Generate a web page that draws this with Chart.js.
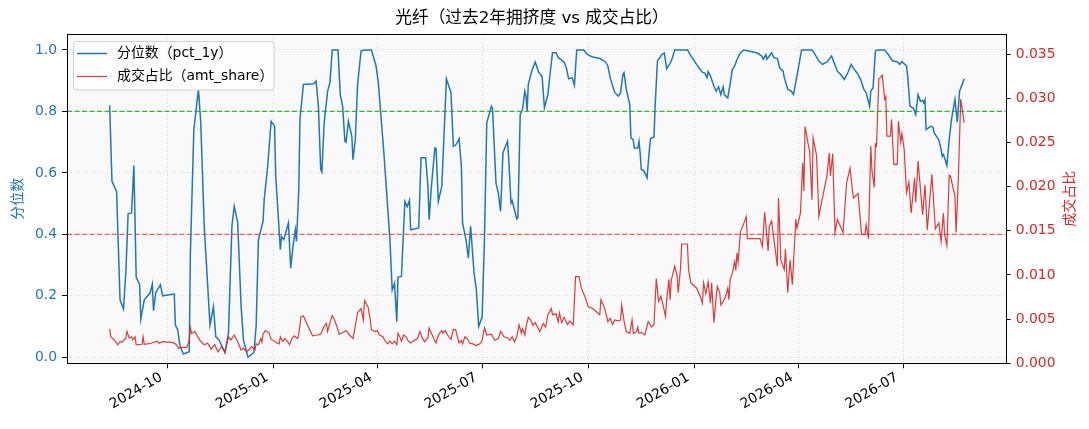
<!DOCTYPE html>
<html>
<head>
<meta charset="utf-8">
<script src="https://cdn.jsdelivr.net/npm/chart.js@4.4.1/dist/chart.umd.min.js"></script>
<style>
  html, body { margin: 0; padding: 0; background: #fff; }
</style>
</head>
<body>
<canvas id="chart" width="1089" height="429"></canvas>
<script>
// 分位数 (pct_1y), one line per month
const pctDates = [
  '2024-08-12','2024-08-14','2024-08-18','2024-08-21','2024-08-24','2024-08-26','2024-08-28','2024-08-31',
  '2024-09-02','2024-09-04','2024-09-07','2024-09-08','2024-09-11','2024-09-16','2024-09-18','2024-09-19','2024-09-21','2024-09-25','2024-09-27',
  '2024-10-01','2024-10-07','2024-10-08','2024-10-10','2024-10-12','2024-10-15','2024-10-20','2024-10-21','2024-10-24','2024-10-28','2024-10-30',
  '2024-11-02','2024-11-07','2024-11-10','2024-11-12','2024-11-15','2024-11-20','2024-11-23','2024-11-26','2024-11-28',
  '2024-12-01','2024-12-04','2024-12-06','2024-12-10','2024-12-15','2024-12-17','2024-12-19','2024-12-23','2024-12-24','2024-12-27','2024-12-30',
  '2025-01-02','2025-01-03','2025-01-05','2025-01-07','2025-01-08','2025-01-10','2025-01-14','2025-01-16','2025-01-18','2025-01-20','2025-01-21','2025-01-23','2025-01-24','2025-01-27',
  '2025-02-05','2025-02-07','2025-02-09','2025-02-11','2025-02-12','2025-02-14','2025-02-17','2025-02-19','2025-02-21','2025-02-26','2025-02-28',
  '2025-03-02','2025-03-04','2025-03-05','2025-03-07','2025-03-10','2025-03-11','2025-03-13','2025-03-15','2025-03-18','2025-03-21','2025-03-27','2025-03-31',
  '2025-04-02','2025-04-07','2025-04-12','2025-04-14','2025-04-16','2025-04-18','2025-04-19','2025-04-22','2025-04-25','2025-04-27','2025-04-29','2025-04-30',
  '2025-05-07','2025-05-09','2025-05-13','2025-05-15','2025-05-16','2025-05-18','2025-05-21','2025-05-22','2025-05-24','2025-05-27','2025-05-29','2025-05-31',
  '2025-06-04','2025-06-06','2025-06-08','2025-06-10','2025-06-11','2025-06-13','2025-06-14','2025-06-17','2025-06-19','2025-06-21','2025-06-24','2025-06-26','2025-06-28',
  '2025-07-01','2025-07-03','2025-07-05','2025-07-09','2025-07-10','2025-07-13','2025-07-15','2025-07-17','2025-07-19','2025-07-23','2025-07-24','2025-07-26','2025-07-27','2025-07-29','2025-07-31',
  '2025-08-01','2025-08-03','2025-08-05','2025-08-07','2025-08-08','2025-08-09','2025-08-10','2025-08-13','2025-08-16','2025-08-19','2025-08-22','2025-08-24','2025-08-27','2025-08-29','2025-08-31',
  '2025-09-03','2025-09-05','2025-09-10','2025-09-12','2025-09-14','2025-09-17','2025-09-19','2025-09-21','2025-09-27','2025-09-30',
  '2025-10-04','2025-10-11','2025-10-16','2025-10-18','2025-10-20','2025-10-24','2025-10-27','2025-10-29','2025-10-31',
  '2025-11-01','2025-11-03','2025-11-06','2025-11-07','2025-11-09','2025-11-10','2025-11-13','2025-11-14','2025-11-15','2025-11-16','2025-11-18','2025-11-19','2025-11-21','2025-11-23','2025-11-24','2025-11-27','2025-11-28','2025-11-30',
  '2025-12-04','2025-12-06','2025-12-08','2025-12-11','2025-12-13','2025-12-15','2025-12-26','2025-12-30',
  '2026-01-05','2026-01-08','2026-01-10','2026-01-12','2026-01-13','2026-01-15','2026-01-18','2026-01-20','2026-01-22','2026-01-24','2026-01-26','2026-01-27','2026-01-30',
  '2026-02-01','2026-02-03','2026-02-05','2026-02-07','2026-02-10','2026-02-13','2026-02-17','2026-02-24','2026-02-28',
  '2026-03-02','2026-03-04','2026-03-05','2026-03-09','2026-03-11','2026-03-14','2026-03-16','2026-03-19','2026-03-20','2026-03-23','2026-03-26','2026-03-28',
  '2026-04-01','2026-04-04','2026-04-13','2026-04-15','2026-04-19','2026-04-22','2026-04-26','2026-04-30',
  '2026-05-05','2026-05-08','2026-05-11','2026-05-14','2026-05-17','2026-05-19','2026-05-22','2026-05-25','2026-05-28','2026-05-30',
  '2026-06-02','2026-06-03','2026-06-05','2026-06-07','2026-06-09','2026-06-15','2026-06-18','2026-06-22','2026-06-26','2026-06-28','2026-06-30',
  '2026-07-02','2026-07-04','2026-07-05','2026-07-07','2026-07-10','2026-07-12','2026-07-14','2026-07-16','2026-07-18','2026-07-19','2026-07-20','2026-07-21','2026-07-25','2026-07-27','2026-07-28',
  '2026-08-01','2026-08-03','2026-08-04','2026-08-05','2026-08-06','2026-08-08','2026-08-10','2026-08-12','2026-08-15','2026-08-17','2026-08-19','2026-08-23'
];
const pctValues = [
  0.82,0.573,0.54,0.187,0.157,0.274,0.467,0.47,
  0.624,0.261,0.236,0.124,0.187,0.209,0.238,0.152,0.211,0.236,0.2,
  0.203,0.206,0.105,0.089,0.037,0.011,0.018,0.339,0.741,0.872,0.763,
  0.426,0.105,0.165,0.067,0.056,0.015,0.078,0.426,0.491,
  0.439,0.165,0.056,0.0,0.015,0.1,0.383,0.442,0.513,0.621,0.768,
  0.752,0.589,0.47,0.35,0.393,0.383,0.437,0.29,0.361,0.415,0.377,0.546,0.774,0.888,
  0.89,0.899,0.817,0.611,0.603,0.763,0.866,0.893,1.0,1.0,0.855,
  0.817,0.703,0.7,0.768,0.719,0.643,0.708,0.888,0.997,1.0,1.0,0.948,
  0.893,0.654,0.383,0.219,0.241,0.116,0.261,0.263,0.507,0.49,0.511,0.415,
  0.421,0.649,0.649,0.556,0.448,0.556,0.681,0.68,0.507,0.556,0.73,0.906,
  0.861,0.687,0.69,0.703,0.711,0.621,0.437,0.383,0.323,0.426,0.274,0.219,0.1,
  0.132,0.383,0.763,0.817,0.81,0.567,0.535,0.475,0.665,0.703,0.649,0.502,0.51,0.48,0.45,
  0.455,0.79,0.806,0.866,0.85,0.801,0.888,0.931,0.961,0.928,0.913,0.812,0.855,0.926,0.991,
  0.991,0.975,0.961,0.942,0.906,0.91,0.885,1.0,1.0,0.986,
  0.978,0.972,0.961,0.948,0.91,0.861,0.85,0.861,0.92,
  0.926,0.872,0.823,0.714,0.708,0.681,0.681,0.703,0.665,0.611,0.608,0.6,0.584,0.676,0.711,0.717,0.817,0.964,
  0.986,0.99,0.939,0.956,0.975,1.0,1.0,0.975,
  0.942,0.928,0.925,0.91,0.93,0.915,0.882,0.866,0.88,0.855,0.88,0.855,0.844,
  0.888,0.937,0.948,0.969,0.991,1.0,0.997,0.991,0.982,
  0.97,0.985,0.97,0.991,0.975,0.972,0.942,0.931,0.91,0.872,0.866,0.855,
  0.937,1.0,1.0,0.99,0.964,0.953,0.961,0.98,
  0.931,0.92,0.904,0.925,0.953,0.94,0.926,0.906,0.872,0.861,
  0.817,0.866,0.877,0.997,1.0,1.0,0.986,0.964,0.962,0.953,0.962,
  0.955,0.948,0.915,0.817,0.81,0.79,0.855,0.833,0.836,0.828,0.838,0.741,0.752,0.748,0.73,
  0.708,0.676,0.654,0.66,0.649,0.624,0.708,0.774,0.839,0.765,0.866,0.906
];

// 成交占比 (amt_share)
const shareDates = [
  '2024-08-12','2024-08-13','2024-08-16','2024-08-19','2024-08-21','2024-08-23','2024-08-26','2024-08-27','2024-08-29','2024-08-31',
  '2024-09-01','2024-09-03','2024-09-04','2024-09-09','2024-09-10','2024-09-11','2024-09-17','2024-09-22','2024-09-24','2024-09-27',
  '2024-10-06','2024-10-09','2024-10-11','2024-10-13','2024-10-15','2024-10-18','2024-10-20','2024-10-21','2024-10-22','2024-10-25','2024-10-27','2024-10-29',
  '2024-11-02','2024-11-05','2024-11-08','2024-11-11','2024-11-14','2024-11-17','2024-11-20','2024-11-23','2024-11-25','2024-11-28',
  '2024-12-01','2024-12-04','2024-12-06','2024-12-09','2024-12-13','2024-12-16','2024-12-17','2024-12-19','2024-12-21','2024-12-22','2024-12-23','2024-12-25','2024-12-26','2024-12-28','2024-12-30',
  '2025-01-02','2025-01-04','2025-01-06','2025-01-07','2025-01-09','2025-01-11','2025-01-13','2025-01-15','2025-01-17','2025-01-19','2025-01-22','2025-01-23','2025-01-25','2025-01-27','2025-01-31',
  '2025-02-04','2025-02-08','2025-02-11','2025-02-14','2025-02-16','2025-02-17','2025-02-19','2025-02-21','2025-02-23','2025-02-25','2025-02-27',
  '2025-03-02','2025-03-05','2025-03-08','2025-03-11','2025-03-13','2025-03-15','2025-03-18','2025-03-20','2025-03-21','2025-03-24','2025-03-26','2025-03-27','2025-03-30',
  '2025-04-01','2025-04-03','2025-04-06','2025-04-08','2025-04-10','2025-04-12','2025-04-14','2025-04-16','2025-04-18','2025-04-19','2025-04-21','2025-04-22','2025-04-24','2025-04-26','2025-04-28','2025-04-30',
  '2025-05-03','2025-05-06','2025-05-08','2025-05-10','2025-05-12','2025-05-15','2025-05-16','2025-05-18','2025-05-20','2025-05-22','2025-05-23','2025-05-25','2025-05-27','2025-05-28','2025-05-30',
  '2025-06-01','2025-06-04','2025-06-06','2025-06-08','2025-06-10','2025-06-11','2025-06-13','2025-06-14','2025-06-16','2025-06-18','2025-06-20','2025-06-23','2025-06-26','2025-06-29',
  '2025-07-01','2025-07-03','2025-07-05','2025-07-09','2025-07-12','2025-07-15','2025-07-17','2025-07-20','2025-07-23','2025-07-25','2025-07-27','2025-07-29','2025-07-31',
  '2025-08-02','2025-08-04','2025-08-05','2025-08-07','2025-08-08','2025-08-10','2025-08-12','2025-08-14','2025-08-16','2025-08-18','2025-08-20','2025-08-23','2025-08-25','2025-08-27','2025-08-30','2025-08-31',
  '2025-09-03','2025-09-05','2025-09-06','2025-09-08','2025-09-10','2025-09-13','2025-09-15','2025-09-18','2025-09-20','2025-09-23','2025-09-25','2025-09-28',
  '2025-10-01','2025-10-05','2025-10-11','2025-10-12','2025-10-15','2025-10-17','2025-10-18','2025-10-20','2025-10-22','2025-10-24','2025-10-27','2025-10-29','2025-10-30',
  '2025-11-01','2025-11-03','2025-11-06','2025-11-08','2025-11-09','2025-11-12','2025-11-13','2025-11-14','2025-11-16','2025-11-19','2025-11-22','2025-11-25','2025-11-27','2025-11-29',
  '2025-12-01','2025-12-03','2025-12-05','2025-12-07','2025-12-08','2025-12-10','2025-12-11','2025-12-12','2025-12-15','2025-12-17','2025-12-18','2025-12-20','2025-12-21','2025-12-26','2025-12-27','2025-12-29',
  '2026-01-03','2026-01-06','2026-01-08','2026-01-09','2026-01-11','2026-01-13','2026-01-15','2026-01-16','2026-01-18','2026-01-20','2026-01-21','2026-01-23','2026-01-24','2026-01-26','2026-01-28','2026-01-30','2026-01-31',
  '2026-02-01','2026-02-03','2026-02-05','2026-02-06','2026-02-07','2026-02-08','2026-02-10','2026-02-12','2026-02-15','2026-02-16','2026-02-27',
  '2026-03-01','2026-03-03','2026-03-06','2026-03-07','2026-03-09','2026-03-11','2026-03-14','2026-03-15','2026-03-17','2026-03-20','2026-03-21','2026-03-23','2026-03-25','2026-03-27','2026-03-30','2026-03-31',
  '2026-04-03','2026-04-05','2026-04-06','2026-04-07','2026-04-10','2026-04-11','2026-04-13','2026-04-14','2026-04-17','2026-04-19','2026-04-21','2026-04-26','2026-04-28','2026-04-29',
  '2026-05-01','2026-05-03','2026-05-05','2026-05-10','2026-05-13','2026-05-16','2026-05-18','2026-05-19','2026-05-23','2026-05-26','2026-05-29','2026-05-30',
  '2026-06-01','2026-06-03','2026-06-04','2026-06-06','2026-06-07','2026-06-08','2026-06-10','2026-06-11','2026-06-13','2026-06-15','2026-06-16','2026-06-17','2026-06-20','2026-06-21','2026-06-23','2026-06-26','2026-06-27','2026-06-29','2026-06-30',
  '2026-07-02','2026-07-04','2026-07-06','2026-07-08','2026-07-10','2026-07-11','2026-07-12','2026-07-14','2026-07-18','2026-07-20','2026-07-22','2026-07-26','2026-07-29',
  '2026-08-01','2026-08-03','2026-08-05','2026-08-06','2026-08-08','2026-08-10','2026-08-11','2026-08-15','2026-08-16','2026-08-18','2026-08-20','2026-08-23'
];
const shareValues = [
  0.0039,0.0030,0.00265,0.0021,0.00245,0.0024,0.00284,0.0036,0.00284,0.0030,
  0.00265,0.0030,0.0021,0.00215,0.0030,0.00215,0.00227,0.0025,0.00227,0.00245,
  0.00234,0.0021,0.0017,0.0018,0.0018,0.0018,0.00265,0.0040,0.0034,0.0036,0.0031,0.00265,
  0.0021,0.00227,0.0016,0.0021,0.0013,0.0019,0.0013,0.0030,0.00265,0.0032,
  0.00245,0.0015,0.0017,0.0013,0.0019,0.0015,0.0022,0.0021,0.0028,0.0024,0.0033,0.0037,0.0036,0.0035,0.0027,
  0.0025,0.0023,0.0022,0.0030,0.0025,0.0028,0.0025,0.0021,0.0028,0.0031,0.0028,0.0033,0.0053,0.00535,0.0042,
  0.0031,0.0032,0.0033,0.0042,0.0045,0.0036,0.0046,0.0054,0.0049,0.0042,0.0033,
  0.00345,0.0037,0.0032,0.0028,0.0042,0.00575,0.0062,0.0049,0.0071,0.0064,0.0049,0.0038,0.0036,
  0.0037,0.0032,0.0030,0.0025,0.0022,0.0025,0.0022,0.0025,0.0021,0.0034,0.0029,0.0025,0.0032,0.0030,0.0025,0.0023,
  0.0026,0.0028,0.0036,0.0029,0.00245,0.0029,0.0040,0.0034,0.0028,0.0023,0.0028,0.0034,0.0037,0.0034,0.0037,
  0.0032,0.0027,0.0038,0.0038,0.0028,0.0023,0.0026,0.0022,0.0030,0.0028,0.0023,0.0022,0.0020,0.0022,
  0.0026,0.0040,0.0032,0.0033,0.0026,0.0028,0.0036,0.0030,0.0029,0.0026,0.0030,0.0024,0.0030,
  0.00435,0.0034,0.0039,0.0032,0.0041,0.0052,0.0049,0.0043,0.0046,0.0041,0.0036,0.0045,0.0041,0.0055,0.0062,0.0055,
  0.0056,0.0047,0.0057,0.0046,0.0052,0.0044,0.0048,0.00435,0.0098,0.0098,0.0085,0.0076,
  0.0064,0.0062,0.0055,0.0072,0.0063,0.0053,0.0047,0.0051,0.0044,0.0049,0.0048,0.0049,0.0066,
  0.0048,0.0036,0.0034,0.0049,0.0034,0.0036,0.0041,0.0034,0.0035,0.0032,0.0047,0.0041,0.0044,0.0096,
  0.0070,0.0076,0.0065,0.0053,0.0072,0.0095,0.0072,0.0094,0.0110,0.0099,0.0080,0.0107,0.0135,0.0135,0.0106,0.0091,
  0.0085,0.0076,0.0068,0.0091,0.0079,0.0092,0.0068,0.0091,0.0046,0.0076,0.0087,0.0080,0.0066,0.0070,0.0075,0.0085,0.0072,
  0.0095,0.0102,0.0115,0.0105,0.0125,0.0115,0.0149,0.0155,0.0166,0.0141,0.0141,
  0.0132,0.0171,0.0127,0.0155,0.0161,0.0140,0.0110,0.0187,0.0117,0.0106,0.0129,0.0080,0.0117,0.0089,0.0163,0.0153,
  0.0170,0.0227,0.0195,0.0268,0.0246,0.0240,0.0185,0.0255,0.0235,0.0166,0.0180,0.0212,0.0238,0.0212,
  0.0237,0.0148,0.0163,0.0148,0.0204,0.0221,0.0197,0.0187,0.0192,0.0146,0.0146,0.0157,
  0.0141,0.0246,0.0219,0.0199,0.0248,0.0246,0.0322,0.0323,0.0326,0.0299,0.0302,0.0257,0.0257,0.0276,0.0225,0.0225,0.0274,0.0250,0.0260,
  0.0242,0.0193,0.0205,0.0170,0.0197,0.0210,0.0182,0.0229,0.0168,0.0202,0.0151,0.0214,0.0152,
  0.0159,0.0138,0.0170,0.0146,0.0133,0.0213,0.0212,0.0189,0.0148,0.0212,0.0299,0.0272
];

const xTickMonths = ['2024-10','2025-01','2025-04','2025-07','2025-10','2026-01','2026-04','2026-07'];
const pctTicks = [0.0, 0.2, 0.4, 0.6, 0.8, 1.0];
const shareTicks = [0.000, 0.005, 0.010, 0.015, 0.020, 0.025, 0.030, 0.035];
const pctHigh = 0.8;
const pctLow = 0.4;

const TITLE = '光纤（过去2年拥挤度 vs 成交占比）';
// latin glyphs from DejaVu, chinese falls through to Noto CJK
const FONT = '"DejaVu Sans", "Noto Sans CJK SC", sans-serif';
const BLUE = '#1f77b4';
const RED = '#d62728';

const toTime = s => Date.parse((s.length === 7 ? s + '-01' : s) + 'T00:00:00Z');
const monthLabel = v => {
  const d = new Date(v);
  return d.getUTCFullYear() + '-' + String(d.getUTCMonth() + 1).padStart(2, '0');
};

const pctPoints = pctDates.map((d, i) => ({ x: toTime(d), y: pctValues[i] }));
const sharePoints = shareDates.map((d, i) => ({ x: toTime(d), y: shareValues[i] }));

const decor = {
  id: 'decor',
  beforeDraw(chart) {
    const { ctx, chartArea: a } = chart;
    ctx.save();
    ctx.fillStyle = '#ffffff';
    ctx.fillRect(0, 0, chart.width, chart.height);
    ctx.fillStyle = '#f9f9f9';
    ctx.fillRect(a.left, a.top, a.right - a.left, a.bottom - a.top);
    ctx.restore();
  },
  beforeDatasetsDraw(chart) {
    const { ctx, chartArea: a, scales } = chart;
    ctx.save();
    ctx.lineWidth = 1.2;
    ctx.setLineDash([5, 2.5]);
    [[pctHigh, 'rgba(30,180,30,0.9)'], [pctLow, 'rgba(255,40,40,0.75)']].forEach(([v, c]) => {
      const y = scales.y.getPixelForValue(v);
      ctx.strokeStyle = c;
      ctx.beginPath();
      ctx.moveTo(a.left, y);
      ctx.lineTo(a.right, y);
      ctx.stroke();
    });
    ctx.restore();
  },
  afterDraw(chart) {
    const { ctx, chartArea: a } = chart;
    ctx.save();
    // frame
    ctx.strokeStyle = '#000';
    ctx.lineWidth = 1;
    ctx.strokeRect(Math.round(a.left) + 0.5, Math.round(a.top) + 0.5,
      Math.round(a.right - a.left), Math.round(a.bottom - a.top));

    // title
    ctx.fillStyle = '#000';
    ctx.font = '16.7px ' + FONT;
    ctx.textAlign = 'center';
    ctx.textBaseline = 'middle';
    ctx.fillText(TITLE, 532, 19);

    // axis titles
    const midY = (a.top + a.bottom) / 2;
    ctx.font = '14px ' + FONT;
    ctx.save();
    ctx.translate(18, midY);
    ctx.rotate(-Math.PI / 2);
    ctx.fillStyle = BLUE;
    ctx.fillText('分位数', 0, 0);
    ctx.restore();
    ctx.save();
    ctx.translate(1070, midY);
    ctx.rotate(-Math.PI / 2);
    ctx.fillStyle = RED;
    ctx.fillText('成交占比', 0, 0);
    ctx.restore();

    // legend
    const bx = 73.5, by = 41.5, bw = 200.5, bh = 48.5, r = 3;
    ctx.beginPath();
    ctx.moveTo(bx + r, by);
    ctx.arcTo(bx + bw, by, bx + bw, by + bh, r);
    ctx.arcTo(bx + bw, by + bh, bx, by + bh, r);
    ctx.arcTo(bx, by + bh, bx, by, r);
    ctx.arcTo(bx, by, bx + bw, by, r);
    ctx.closePath();
    ctx.fillStyle = 'rgba(255,255,255,0.8)';
    ctx.fill();
    ctx.strokeStyle = '#d0d0d0';
    ctx.stroke();
    const items = [
      { ds: chart.data.datasets[1], y: 53.5 },
      { ds: chart.data.datasets[0], y: 76.5 }
    ];
    ctx.textAlign = 'left';
    ctx.font = '13.9px ' + FONT;
    items.forEach(it => {
      ctx.strokeStyle = it.ds.borderColor;
      ctx.lineWidth = it.ds.borderWidth;
      ctx.beginPath();
      ctx.moveTo(77, it.y);
      ctx.lineTo(107, it.y);
      ctx.stroke();
      ctx.fillStyle = '#000';
      ctx.fillText(it.ds.label, 117, it.y);
    });
    ctx.restore();
  }
};

const gridDash = [1.2, 2.8];

new Chart(document.getElementById('chart').getContext('2d'), {
  type: 'line',
  data: {
    datasets: [
      {
        label: '成交占比（amt_share）',
        data: sharePoints,
        yAxisID: 'y2',
        borderColor: 'rgba(214,39,40,0.9)',
        borderWidth: 1.2,
        pointRadius: 0,
        tension: 0,
        order: 0
      },
      {
        label: '分位数（pct_1y）',
        data: pctPoints,
        yAxisID: 'y',
        borderColor: BLUE,
        borderWidth: 1.5,
        pointRadius: 0,
        tension: 0,
        order: 1
      }
    ]
  },
  options: {
    responsive: false,
    animation: false,
    events: [],
    font: { family: FONT },
    layout: { padding: { top: 34.3, left: 0, right: 0, bottom: 0 } },
    plugins: {
      legend: { display: false },
      title: { display: false },
      tooltip: { enabled: false }
    },
    scales: {
      x: {
        type: 'linear',
        min: toTime('2024-07-06'),
        max: toTime('2026-09-28'),
        afterBuildTicks: s => { s.ticks = xTickMonths.map(m => ({ value: toTime(m) })); },
        afterFit: s => { s.height = 65.7; },
        ticks: {
          callback: v => monthLabel(v),
          autoSkip: false,
          minRotation: 30,
          maxRotation: 30,
          padding: 1,
          labelOffset: -6,
          color: '#000',
          font: { family: FONT, size: 13.9 }
        },
        grid: {
          color: '#cfcfcf',
          lineWidth: 0.8,
          tickLength: 5,
          tickColor: '#000',
          tickWidth: 1,
          tickBorderDash: []
        },
        border: { display: false, dash: gridDash }
      },
      y: {
        position: 'left',
        min: -0.0195,
        max: 1.051,
        afterBuildTicks: s => { s.ticks = pctTicks.map(v => ({ value: v })); },
        afterFit: s => { s.width = 67; },
        ticks: {
          callback: v => v.toFixed(1),
          padding: 5,
          color: BLUE,
          font: { family: FONT, size: 13.9 }
        },
        grid: {
          color: '#cfcfcf',
          lineWidth: 0.8,
          tickLength: 5,
          tickColor: '#000',
          tickWidth: 1,
          tickBorderDash: []
        },
        border: { display: false, dash: gridDash }
      },
      y2: {
        position: 'right',
        min: 0,
        max: 0.03723,
        afterBuildTicks: s => { s.ticks = shareTicks.map(v => ({ value: v })); },
        afterFit: s => { s.width = 83.3; },
        ticks: {
          callback: v => v.toFixed(3),
          padding: 5,
          color: RED,
          font: { family: FONT, size: 13.9 }
        },
        grid: {
          drawOnChartArea: false,
          tickLength: 5,
          tickColor: '#000',
          tickWidth: 1
        },
        border: { display: false }
      }
    }
  },
  plugins: [decor]
});
</script>
</body>
</html>
